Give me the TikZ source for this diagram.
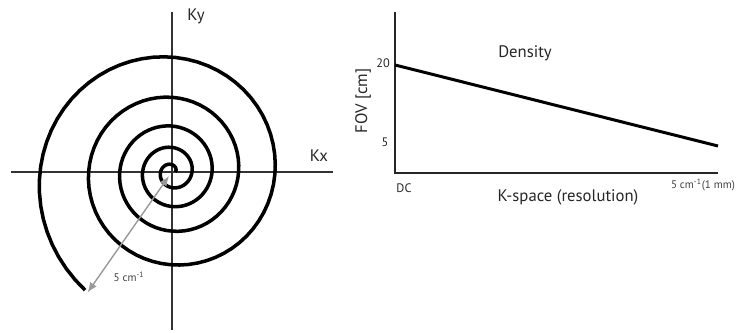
\documentclass[tikz,border=0pt]{standalone}
\usepackage{fontspec}
\setmainfont{PT Sans}
\usetikzlibrary{arrows.meta, positioning}

\begin{document}
\begin{tikzpicture}[
  x=0.02cm, y=0.02cm,
  every node/.style={font=\fontsize{9.5}{11}\selectfont, text=black!85, inner sep=1pt},
  axis/.style={draw=black!80, line width=0.7pt},
  graphaxis/.style={draw=black!85, line width=1.1pt},
  curve/.style={draw=black, line width=2pt},
  tick/.style={font=\fontsize{7}{8}\selectfont},
  small/.style={font=\fontsize{6.3}{7}\selectfont, text=black!75},
  dim/.style={{Latex[length=2mm,width=1.6mm]}-{Latex[length=2mm,width=1.6mm]}, draw=black!40, line width=0.8pt}
]
  \useasboundingbox (0,0) rectangle (750,333);

  % spiral trajectory in k-space
  \coordinate (origin) at (172,161);
  \coordinate (kxL) at (11,161);
  \coordinate (kxR) at (333,161);
  \coordinate (kyB) at (172,3);
  \coordinate (kyT) at (172,321);
  \draw[axis] (kxL) -- (kxR);
  \draw[axis] (kyB) -- (kyT);
  \node (ky) at (196,317) {Ky};
  \node (kx) at (319,177) {Kx};

  \draw[curve, shift={(origin)}] plot[domain=0:4.653, samples=300, variable=\t]
    ({360*\t}:{3.3+16.17*\t+0.548*\t^3+48*(max(\t-4,0))^3});
  \coordinate (tail) at (87.6,40.5);
  \coordinate (hub) at (169,157);
  \draw[dim] (hub) -- (tail);
  \node[small] (radius) at (129,56) {5 cm\textsuperscript{-1}};

  % FOV against resolution
  \coordinate (gTop) at (395,321);
  \coordinate (gO) at (395,160);
  \coordinate (gEnd) at (718,160);
  \draw[graphaxis] (gTop) -- (gO) -- (gEnd);
  \coordinate (dStart) at (395,268);
  \coordinate (dEnd) at (718,187);
  \draw[curve, line width=1.7pt] (dStart) -- (dEnd);

  \node[rotate=90] (fov) at (363,232) {FOV [cm]};
  \node[tick] (top) at (383,270) {20};
  \node[tick] (low) at (385,191) {5};
  \node (dens) at (525,280) {Density};
  \node[tick] (dc) at (404,145) {DC};
  \node (kspace) at (568,136) {K-space (resolution)};
  \node[small] (res) at (703,148) {5 cm\textsuperscript{-1}(1 mm)};
\end{tikzpicture}
\end{document}
